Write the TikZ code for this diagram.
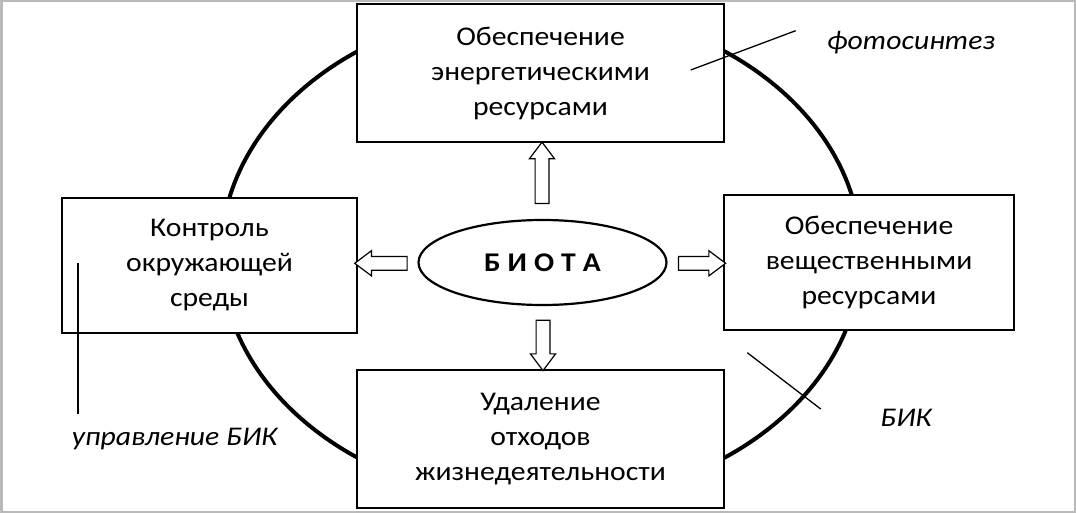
\documentclass[tikz,border=0pt]{standalone}
\usepackage{fontspec}
\setmainfont{Carlito}[FakeStretch=1.1]
\usetikzlibrary{shapes.geometric,shapes.arrows}
\begin{document}
\begin{tikzpicture}[x=1pt,y=-1pt,
    box/.style={draw,fill=white,line width=1.5pt,align=center,inner sep=0pt,
      font=\fontsize{27}{35}\selectfont},
    bigarrow/.style={single arrow,draw,fill=white,line width=1.2pt,inner sep=6.3pt,
      single arrow head extend=5.7pt,single arrow tip angle=74},
    note/.style={font=\fontsize{27}{30}\selectfont\itshape,anchor=base},
    lead/.style={line width=1.3pt}]
  \useasboundingbox (0,0) rectangle (1076,513);
  \draw [gray!55,line width=2.5pt] (1.25,1.25) rectangle (1074.75,511.75);
  % the cycle
  \draw [line width=4pt] (541,254.5) ellipse [x radius=320,y radius=248];
  \node [box,minimum width=367pt,minimum height=138pt] (energy) at (540.5,73) {Обеспечение\\энергетическими\\ресурсами};
  \node [box,minimum width=295pt,minimum height=135pt] (control) at (209.5,265.5) {Контроль\\окружающей\\среды};
  \node [box,minimum width=290pt,minimum height=135pt] (matter) at (869,262.5) {Обеспечение\\вещественными\\ресурсами};
  \node [box,minimum width=367pt,minimum height=138pt] (waste) at (540.5,439) {Удаление\\отходов\\жизнедеятельности};
  \node [draw,ellipse,line width=2.2pt,minimum width=248pt,minimum height=85pt,inner sep=0pt,
    font=\fontsize{27}{30}\selectfont\bfseries] (biota) at (542.5,262.5) {Б\kern7pt И\kern7pt О\kern7pt Т\kern7pt А};
  % block arrows
  \node [bigarrow,shape border rotate=90,minimum height=61.3pt] (up) at (542,177.35) {};
  \node [bigarrow,shape border rotate=270,minimum height=50.3pt] (down) at (543,340.85) {};
  \node [bigarrow,shape border rotate=180,minimum height=52.4pt] (left) at (385.5,263.3) {};
  \node [bigarrow,minimum height=47pt] (right) at (697.5,263.3) {};
  % leaders and notes
  \coordinate (ph1) at (690.7,70);
  \coordinate (ph2) at (795.7,30.7);
  \draw [lead] (ph1) -- (ph2);
  \node [note] (photo) at (911,50) {фотосинтез};
  \coordinate (bik1) at (747.3,352.7);
  \coordinate (bik2) at (820.7,409);
  \draw [lead] (bik1) -- (bik2);
  \node [note] (bik) at (906,426) {БИК};
  \coordinate (ctl1) at (78,263);
  \coordinate (ctl2) at (78,414);
  \draw [lead] (ctl1) -- (ctl2);
  \node [note] (ctlbik) at (174.5,445) {управление БИК};
\end{tikzpicture}
\end{document}
